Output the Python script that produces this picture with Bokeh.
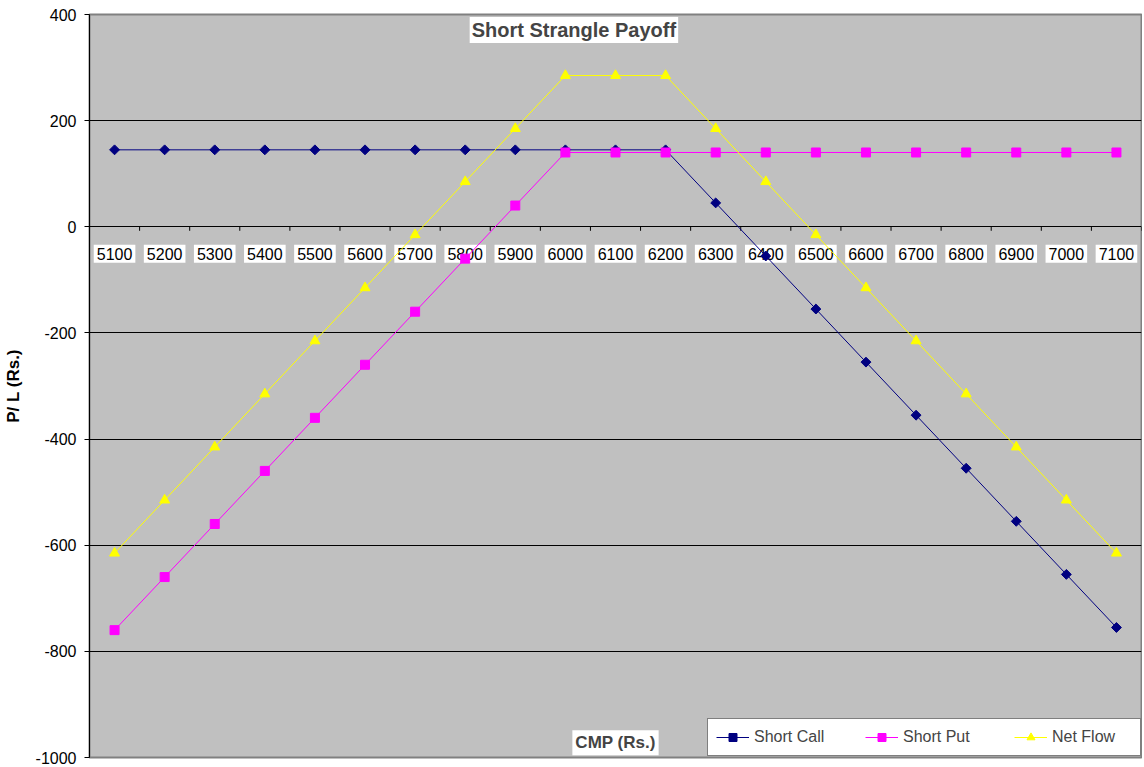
import math
from bokeh.plotting import figure
from bokeh.models import (Range1d, FixedTicker, Label, Legend, LegendItem,
                          ColumnDataSource, PrintfTickFormatter)
from bokeh.core.properties import value
from bokeh.embed import file_html
from bokeh.resources import INLINE

# ---- data ----
cmp_prices = [5100, 5200, 5300, 5400, 5500, 5600, 5700, 5800, 5900, 6000, 6100,
              6200, 6300, 6400, 6500, 6600, 6700, 6800, 6900, 7000, 7100]
short_call = [145, 145, 145, 145, 145, 145, 145, 145, 145, 145, 145,
              145, 45, -55, -155, -255, -355, -455, -555, -655, -755]
short_put = [-760, -660, -560, -460, -360, -260, -160, -60, 40, 140, 140,
             140, 140, 140, 140, 140, 140, 140, 140, 140, 140]
net_flow = [-615, -515, -415, -315, -215, -115, -15, 85, 185, 285, 285,
            285, 185, 85, -15, -115, -215, -315, -415, -515, -615]
y_ticks = [-1000, -800, -600, -400, -200, 0, 200, 400]

FONT = value("Liberation Sans")
n = len(cmp_prices)
pos = list(range(1, n + 1))
labels = [str(c) for c in cmp_prices]

p = figure(width=1142, height=765, output_backend="svg", toolbar_location=None,
           x_range=Range1d(0.5, n + 0.5), y_range=Range1d(-1000, 400),
           x_axis_location=None,
           min_border_left=82, min_border_right=1, min_border_top=14, min_border_bottom=8,
           background_fill_color="#C0C0C0", border_fill_color="white")
p.outline_line_color = "#808080"
p.outline_line_width = 2

p.ygrid.grid_line_color = "black"
p.ygrid.grid_line_width = 1
for g in p.xgrid:
    g.visible = False

ya = p.yaxis[0]
ya.ticker = FixedTicker(ticks=y_ticks)
ya.formatter = PrintfTickFormatter(format="%d")
ya.axis_line_color = "black"
ya.major_tick_line_color = "black"
ya.major_tick_out = 5
ya.major_tick_in = 0
ya.minor_tick_line_color = None
ya.major_label_text_font = "Liberation Sans"
ya.major_label_text_font_size = "16px"
ya.major_label_text_color = "black"
ya.major_label_standoff = 8
ya.axis_label = "P/ L (Rs.)"
ya.axis_label_text_font = "Liberation Sans"
ya.axis_label_text_font_size = "17px"
ya.axis_label_text_font_style = "bold"
ya.axis_label_text_color = "black"
ya.axis_label_standoff = 10

# category boundary ticks on the zero line
bounds = [i + 0.5 for i in range(0, n + 1)]
p.ray(x=bounds, y=[0] * len(bounds), length=4, length_units="screen",
      angle=-math.pi / 2, line_color="black", line_width=1)

# category labels with white boxes
p.text(x=pos, y=[0] * n, text=labels, y_offset=27, text_align="center",
       text_baseline="middle", text_font=FONT, text_font_size="16px",
       text_color="black", background_fill_color="white", padding=3)

src = ColumnDataSource(dict(x=pos, call=short_call, put=short_put, net=net_flow))

l1 = p.line("x", "call", source=src, line_color="#000080", line_width=1)
m1 = p.scatter("x", "call", source=src, marker="square", angle=math.pi / 4, size=7,
               fill_color="#000080", line_color="#000080")
l2 = p.line("x", "put", source=src, line_color="#FF00FF", line_width=1)
m2 = p.scatter("x", "put", source=src, marker="square", size=9,
               fill_color="#FF00FF", line_color="#FF00FF")
l3 = p.line("x", "net", source=src, line_color="#FFFF00", line_width=1)
m3 = p.scatter("x", "net", source=src, marker="triangle", size=10,
               fill_color="#FFFF00", line_color="#FFFF00")

title = Label(x=10.17, y=371, text="Short Strangle Payoff", text_font="Liberation Sans",
              text_font_size="20px", text_font_style="bold", text_align="center",
              text_baseline="middle", background_fill_color="white", padding=2)
p.add_layout(title)
xlab = Label(x=11.0, y=-972, text="CMP (Rs.)", text_font="Liberation Sans",
             text_font_size="17px", text_font_style="bold", text_align="center",
             text_baseline="middle", background_fill_color="white", padding=3)
p.add_layout(xlab)

legend = Legend(items=[LegendItem(label="Short Call", renderers=[l1, m1]),
                       LegendItem(label="Short Put", renderers=[l2, m2]),
                       LegendItem(label="Net Flow", renderers=[l3, m3])],
                orientation="horizontal", location=(618, 1),
                label_text_font="Liberation Sans", label_text_font_size="16px",
                glyph_width=33, glyph_height=20, label_standoff=5, label_width=80,
                spacing=31, padding=8, margin=0,
                border_line_color="black", border_line_width=1,
                background_fill_color="white", background_fill_alpha=1)
p.add_layout(legend, "center")

open("out.html", "w").write(file_html(p, INLINE))
